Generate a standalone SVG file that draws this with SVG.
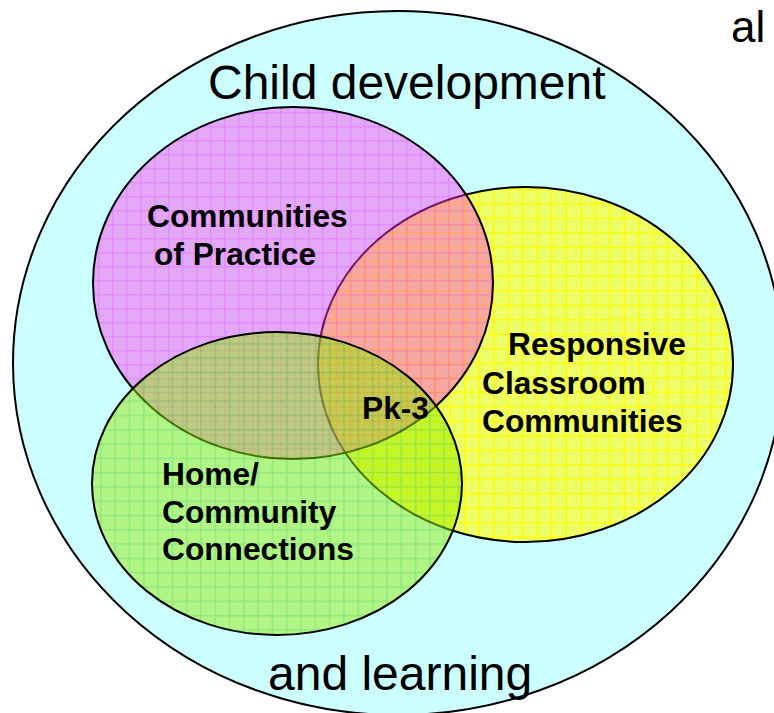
<svg xmlns="http://www.w3.org/2000/svg" width="774" height="713" viewBox="0 0 774 713">
  <style>
    .big { font-family: "Liberation Sans", Arial, sans-serif; font-size: 48px; fill: #000; }
    .lbl { font-family: "Liberation Sans", Arial, sans-serif; font-size: 31.7px; font-weight: bold; fill: #000; }
    .edge { fill: none; stroke: #000; stroke-width: 2; }
  </style>
  <defs>
    <pattern id="yellowGrid" patternUnits="userSpaceOnUse" width="14.5" height="14.5">
      <rect width="14.5" height="14.5" fill="#ECFF68"/>
      <path d="M0 0.75H14.5M0.75 0V14.5" stroke="#FFFF00" stroke-width="1.5"/>
    </pattern>
    <pattern id="pinkGrid" patternUnits="userSpaceOnUse" width="14" height="14">
      <rect width="14" height="14" fill="#FF3EE9"/>
      <path d="M0 0.75H14M0.75 0V14" stroke="#FF00FF" stroke-width="1.5"/>
    </pattern>
    <pattern id="greenGrid" patternUnits="userSpaceOnUse" width="14.3" height="14.3">
      <rect width="14.3" height="14.3" fill="#96EC08"/>
      <path d="M0 0.75H14.3M0.75 0V14.3" stroke="#55D000" stroke-width="1.5"/>
    </pattern>
  </defs>

  <rect width="774" height="713" fill="#FFFFFF"/>

  <g id="outer">
    <ellipse cx="398" cy="363" rx="385" ry="352" fill="#CCFFFF" stroke="#000" stroke-width="2"/>
    <text class="big" x="208" y="99">Child development</text>
    <text class="big" x="268" y="690">and learning</text>
  </g>

  <g id="responsive">
    <ellipse cx="525.5" cy="364.5" rx="207.5" ry="177.5" fill="url(#yellowGrid)"/>
    <ellipse class="edge" cx="525.5" cy="364.5" rx="207.5" ry="177.5"/>
  </g>

  <g id="practice">
    <g opacity="0.45">
      <ellipse cx="293" cy="283" rx="200" ry="176" fill="url(#pinkGrid)"/>
    </g>
    <ellipse class="edge" cx="293" cy="283" rx="200" ry="176"/>
  </g>

  <g id="home">
    <g opacity="0.5">
      <ellipse cx="277" cy="483.5" rx="185" ry="151.5" fill="url(#greenGrid)"/>
    </g>
    <ellipse class="edge" cx="277" cy="483.5" rx="185" ry="151.5"/>
  </g>

  <g id="labels">
    <text class="lbl" x="147" y="227">Communities</text>
    <text class="lbl" x="154" y="265">of Practice</text>
    <text class="lbl" x="508" y="355">Responsive</text>
    <text class="lbl" x="482" y="394">Classroom</text>
    <text class="lbl" x="482" y="432">Communities</text>
    <text class="lbl" x="362" y="419">Pk-3</text>
    <text class="lbl" x="162" y="485">Home/</text>
    <text class="lbl" x="162" y="523">Community</text>
    <text class="lbl" x="162" y="560">Connections</text>
  </g>

  <g id="clipped-text">
    <text x="731" y="42" font-family="Liberation Sans, Arial, sans-serif" font-size="44">al</text>
  </g>
</svg>
